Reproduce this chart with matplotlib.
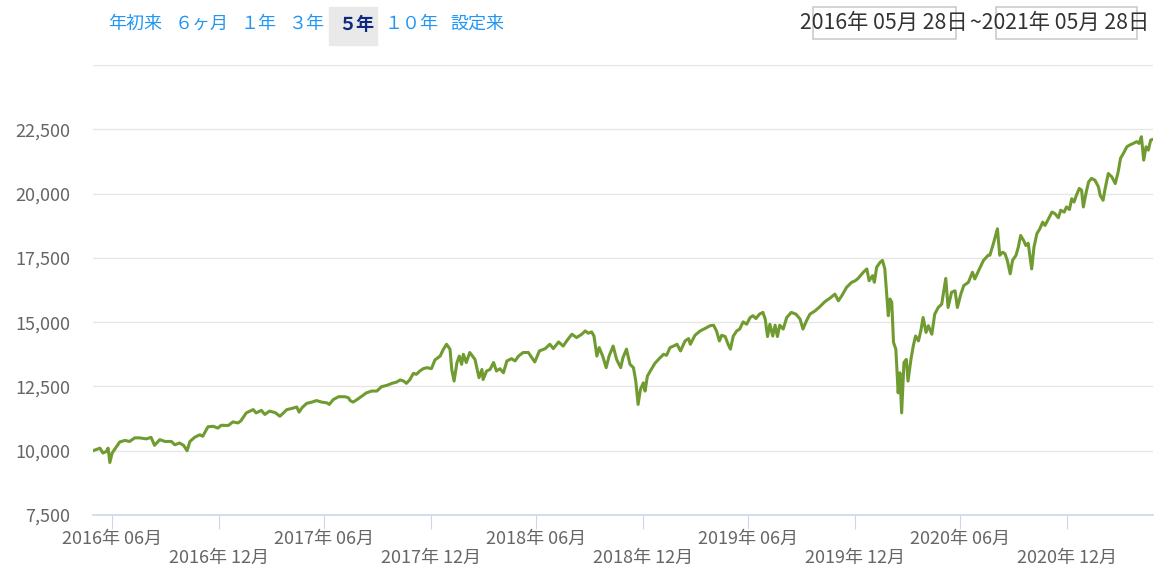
import pandas as pd
import matplotlib.pyplot as plt
from matplotlib.patches import Rectangle

plt.rcParams['font.family'] = ['Noto Sans CJK JP', 'DejaVu Sans']

# fund value, days counted from 2016-05-28
start = pd.Timestamp('2016-05-28')
days = [
    0, 12, 17, 23, 26, 29, 33, 37, 46, 55, 63, 72, 80, 92, 100, 106, 115, 124, 135, 141,
    149, 156, 162, 167, 175, 184, 189, 198, 207, 215, 221, 233, 241, 250, 255, 264, 276, 281, 290, 296,
    304, 314, 322, 328, 334, 342, 351, 355, 360, 368, 377, 385, 394, 403, 407, 414, 423, 434, 440, 443,
    448, 455, 463, 471, 480, 489, 497, 506, 515, 523, 529, 535, 540, 546, 552, 557, 563, 569, 575, 583,
    589, 598, 603, 609, 615, 618, 622, 627, 631, 635, 638, 643, 649, 658, 665, 670, 672, 678, 684, 690,
    695, 701, 707, 713, 721, 727, 733, 741, 750, 756, 761, 769, 779, 787, 793, 802, 810, 816, 825, 833,
    842, 848, 853, 859, 863, 868, 872, 878, 884, 889, 896, 902, 909, 913, 919, 925, 931, 935, 939, 943,
    948, 951, 955, 960, 968, 977, 983, 988, 994, 1000, 1006, 1012, 1020, 1026, 1029, 1037, 1046, 1054, 1063, 1069,
    1074, 1079, 1083, 1089, 1094, 1098, 1103, 1109, 1114, 1120, 1126, 1132, 1137, 1142, 1148, 1154, 1158, 1162, 1166, 1171,
    1175, 1179, 1183, 1189, 1195, 1203, 1211, 1218, 1223, 1229, 1235, 1244, 1252, 1261, 1270, 1278, 1284, 1290, 1298, 1307,
    1313, 1318, 1327, 1333, 1337, 1343, 1346, 1350, 1356, 1360, 1364, 1367, 1370, 1373, 1376, 1379, 1383, 1387, 1390, 1393,
    1397, 1401, 1404, 1409, 1413, 1417, 1422, 1426, 1430, 1435, 1439, 1445, 1450, 1456, 1462, 1469, 1473, 1479, 1485, 1489,
    1495, 1500, 1508, 1515, 1519, 1527, 1534, 1542, 1545, 1551, 1558, 1562, 1567, 1571, 1575, 1580, 1584, 1590, 1594, 1598,
    1603, 1607, 1611, 1617, 1621, 1626, 1631, 1636, 1640, 1646, 1652, 1657, 1663, 1667, 1673, 1677, 1682, 1686, 1690, 1694,
    1699, 1703, 1706, 1711, 1715, 1720, 1726, 1732, 1735, 1740, 1743, 1749, 1755, 1761, 1766, 1770, 1775, 1781, 1786, 1792,
    1798, 1802, 1806, 1810, 1814, 1818, 1822, 1826,
]
values = [
    10000, 10100, 9910, 9970, 10100, 9540, 9910, 10040, 10340, 10400, 10360, 10500, 10500, 10460, 10520, 10210, 10430, 10360, 10360, 10230,
    10300, 10210, 10000, 10360, 10520, 10620, 10560, 10930, 10950, 10880, 10990, 10980, 11120, 11080, 11170, 11470, 11600, 11470, 11570, 11410,
    11540, 11480, 11340, 11470, 11600, 11640, 11700, 11500, 11670, 11840, 11890, 11950, 11890, 11860, 11800, 11990, 12100, 12100, 12060, 11950,
    11890, 11990, 12120, 12250, 12320, 12320, 12490, 12540, 12620, 12670, 12750, 12710, 12620, 12770, 13010, 12970, 13100, 13190, 13230, 13190,
    13530, 13680, 13920, 14140, 13950, 13160, 12710, 13430, 13680, 13360, 13750, 13430, 13820, 13550, 12840, 13160, 12770, 13100, 13160, 13430,
    13100, 13190, 13030, 13490, 13580, 13490, 13680, 13820, 13820, 13620, 13450, 13880, 13970, 14140, 13970, 14230, 14070, 14270, 14530, 14400,
    14530, 14660, 14570, 14620, 14460, 13680, 14010, 13680, 13230, 13680, 14070, 13550, 13230, 13620, 13950, 13360, 13230, 12710, 11800, 12380,
    12640, 12320, 12900, 13100, 13400, 13620, 13750, 13710, 14010, 14070, 14140, 13880, 14270, 14360, 14140, 14490, 14660, 14750, 14860, 14880,
    14660, 14270, 14490, 14440, 14140, 13950, 14460, 14660, 14730, 15010, 14920, 15180, 15250, 15140, 15310, 15380, 15120, 14440, 14920, 14460,
    14880, 14440, 14880, 14730, 15180, 15380, 15310, 15120, 14730, 15050, 15310, 15440, 15600, 15800, 15940, 16090, 15830, 16030, 16350, 16550,
    16610, 16700, 16940, 17070, 16610, 16810, 16550, 17140, 17330, 17400, 17070, 16160, 15250, 15900, 15770, 14210, 13950, 12250, 13030, 11470,
    13430, 13550, 12710, 13550, 14070, 14460, 14270, 14660, 15180, 14600, 14860, 14530, 15310, 15570, 15700, 16700, 15570, 16160, 16220, 15570,
    16090, 16420, 16550, 16940, 16680, 17070, 17400, 17600, 17600, 18050, 18630, 17600, 17720, 17660, 17400, 16880, 17400, 17600, 17920, 18370,
    18180, 17980, 18070, 17070, 17920, 18440, 18630, 18890, 18760, 19020, 19280, 19220, 19060, 19350, 19280, 19480, 19380, 19800, 19670, 19930,
    20200, 20130, 19480, 20060, 20450, 20590, 20520, 20260, 19930, 19740, 20130, 20780, 20650, 20390, 20840, 21370, 21560, 21820, 21890, 21950,
    22020, 21950, 22210, 21300, 21820, 21690, 22080, 22110,
]

tick_dates = ['2016-06-30', '2016-12-31', '2017-06-30', '2017-12-31', '2018-06-30',
              '2018-12-31', '2019-06-30', '2019-12-31', '2020-06-30', '2020-12-31']
tick_labels = ['2016年 06月', '2016年 12月', '2017年 06月', '2017年 12月', '2018年 06月',
               '2018年 12月', '2019年 06月', '2019年 12月', '2020年 06月', '2020年 12月']
y_ticks = [7500, 10000, 12500, 15000, 17500, 20000, 22500, 25000]

buttons = ['年初来', '６ヶ月', '１年', '３年', '５年', '１０年', '設定来']
button_x = [135, 202, 259, 306, 356, 412, 477]
active = '５年'
range_from = '2016年 05月 28日'
range_to = '2021年 05月 28日'

dates = start + pd.to_timedelta(days, unit='D')

W, H = 1174, 581
fig = plt.figure(figsize=(W / 100, H / 100), dpi=100)
ax = fig.add_axes([93 / W, 1 - 515 / H, 1060 / W, 450 / H])

ax.plot(dates, values, color='#709b30', linewidth=2.2)

ax.set_xlim(start, start + pd.Timedelta(days=1826))
ax.set_ylim(7500, 25000)

ax.set_yticks(y_ticks)
ax.set_yticklabels([f'{v:,}' if v < 25000 else '' for v in y_ticks])
ax.grid(axis='y', color='#e6e6e6', linewidth=1)
ax.tick_params(axis='y', length=0, pad=16.5, labelsize=13, labelcolor='#666666')

ax.set_xticks(pd.to_datetime(tick_dates))
ax.set_xticklabels([lab if i % 2 == 0 else '\n' + lab for i, lab in enumerate(tick_labels)],
                   linespacing=1.08)
ax.tick_params(axis='x', length=10, width=0.8, color='#ccd6eb', pad=0.5,
               labelsize=13, labelcolor='#666666')

for side in ['top', 'right', 'left']:
    ax.spines[side].set_visible(False)
ax.spines['bottom'].set_color('#ccd6eb')
ax.spines['bottom'].set_linewidth(1.2)
ax.set_axisbelow(True)

# range selector buttons
fig.patches.append(Rectangle((329 / W, 1 - 45 / H), 48 / W, 38 / H,
                             transform=fig.transFigure, color='#e9e9e9', zorder=0))
for lab, bx in zip(buttons, button_x):
    if lab == active:
        fig.text(bx / W, 1 - 24 / H, lab, ha='center', va='center', fontsize=13,
                 color='#0d2a80', fontweight='bold')
    else:
        fig.text(bx / W, 1 - 24 / H, lab, ha='center', va='center', fontsize=13,
                 color='#2196f3')

# date range inputs
for x0, x1 in [(813, 956), (996, 1137)]:
    fig.patches.append(Rectangle((x0 / W, 1 - 39 / H), (x1 - x0) / W, 32 / H,
                                 transform=fig.transFigure, fill=False,
                                 edgecolor='#cccccc', linewidth=1.2))
fig.text(800 / W, 1 - 23 / H, range_from, ha='left', va='center', fontsize=15.3, color='#333333')
fig.text(970 / W, 1 - 23 / H, '~' + range_to, ha='left', va='center', fontsize=15.3, color='#333333')

plt.savefig('out.png', dpi=100)
